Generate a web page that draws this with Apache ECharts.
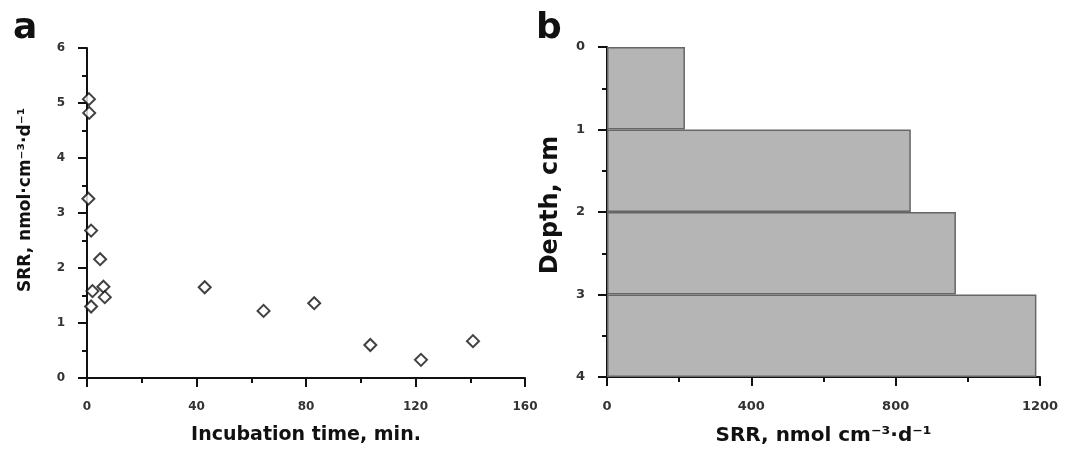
<!DOCTYPE html>
<html>
<head>
<meta charset="utf-8">
<script src="https://cdn.jsdelivr.net/npm/echarts@6/dist/echarts.min.js"></script>
<style>
  html, body { margin: 0; padding: 0; background: #fff; }
  #chart { width: 1065px; height: 451px; }
</style>
</head>
<body>
<div id="chart"></div>
<script>
// panel a: SRR vs incubation time
const incubationTime = [0.7, 0.8, 0.5, 1.5, 4.8, 2, 1.5, 6, 6.5, 43, 64.5, 83, 103.5, 122, 141];
const srrTime = [5.07, 4.82, 3.26, 2.68, 2.16, 1.58, 1.3, 1.66, 1.47, 1.65, 1.22, 1.36, 0.6, 0.33, 0.67];

// panel b: SRR by depth layer
const depthLayers = ['0-1', '1-2', '2-3', '3-4'];
const srrDepth = [216, 842, 967, 1190];

const timePoints = incubationTime.map((t, i) => [t, srrTime[i]]);

const FONT = 'DejaVu Sans';
const tickFont = { fontFamily: FONT, fontSize: 12, color: '#333', fontWeight: 'bold' };
const nameFont = { fontFamily: FONT, fontSize: 19, color: '#111', fontWeight: 'bold' };
const axisLine = { show: true, onZero: false, lineStyle: { color: '#111', width: 2 } };
const axisTick = { show: true, inside: false, length: 9, lineStyle: { color: '#111', width: 2 } };
const minorTick = { show: true, splitNumber: 2, length: 5, lineStyle: { color: '#111', width: 2 } };
const plain = (v) => String(v);

const myChart = echarts.init(document.getElementById('chart'));

myChart.setOption({
  backgroundColor: '#fff',
  animation: false,
  graphic: [
    { type: 'text', left: 13, top: 11, style: { text: 'a', font: 'bold 36px DejaVu Sans', fill: '#111' } },
    { type: 'text', left: 536, top: 11, style: { text: 'b', font: 'bold 36px DejaVu Sans', fill: '#111' } }
  ],
  grid: [
    { left: 87, top: 48, width: 438, height: 330 },
    { left: 607, top: 47, width: 433, height: 330 }
  ],
  xAxis: [
    {
      type: 'value', gridIndex: 0, min: 0, max: 160, interval: 40,
      name: 'Incubation time, min.', nameLocation: 'middle', nameGap: 48,
      nameTextStyle: nameFont,
      axisLine, axisTick, minorTick,
      axisLabel: Object.assign({ margin: 23, formatter: plain }, tickFont),
      splitLine: { show: false }
    },
    {
      type: 'value', gridIndex: 1, min: 0, max: 1200, interval: 400,
      name: 'SRR, nmol cm⁻³·d⁻¹', nameLocation: 'middle', nameGap: 49,
      nameTextStyle: Object.assign({}, nameFont, { fontSize: 20 }),
      axisLine, axisTick, minorTick,
      axisLabel: Object.assign({ margin: 23, formatter: plain }, tickFont, { fontSize: 13 }),
      splitLine: { show: false }
    }
  ],
  yAxis: [
    {
      type: 'value', gridIndex: 0, min: 0, max: 6, interval: 1,
      name: 'SRR, nmol·cm⁻³·d⁻¹', nameLocation: 'middle', nameGap: 53,
      nameTextStyle: Object.assign({}, nameFont, { fontSize: 17, padding: [0, 0, 0, 26] }),
      axisLine, axisTick, minorTick,
      axisLabel: Object.assign({ margin: 22 }, tickFont),
      splitLine: { show: false }
    },
    {
      type: 'value', gridIndex: 1, min: 0, max: 4, interval: 1, inverse: true,
      name: 'Depth, cm', nameLocation: 'middle', nameGap: 44,
      nameTextStyle: Object.assign({}, nameFont, { fontSize: 24, padding: [0, 0, 0, 14] }),
      axisLine, axisTick, minorTick,
      axisLabel: Object.assign({ margin: 22 }, tickFont, { fontSize: 13 }),
      splitLine: { show: false }
    },
    {
      type: 'category', gridIndex: 1, data: depthLayers, inverse: true, show: false
    }
  ],
  series: [
    {
      type: 'scatter', xAxisIndex: 0, yAxisIndex: 0,
      data: timePoints,
      symbol: 'diamond', symbolSize: 12,
      itemStyle: { color: '#fff', borderColor: '#111', borderWidth: 2 }
    },
    {
      type: 'bar', xAxisIndex: 1, yAxisIndex: 2,
      data: srrDepth, barWidth: '100%',
      itemStyle: { color: '#b5b5b5', borderColor: '#666', borderWidth: 1.5 }
    }
  ]
});
</script>
</body>
</html>
